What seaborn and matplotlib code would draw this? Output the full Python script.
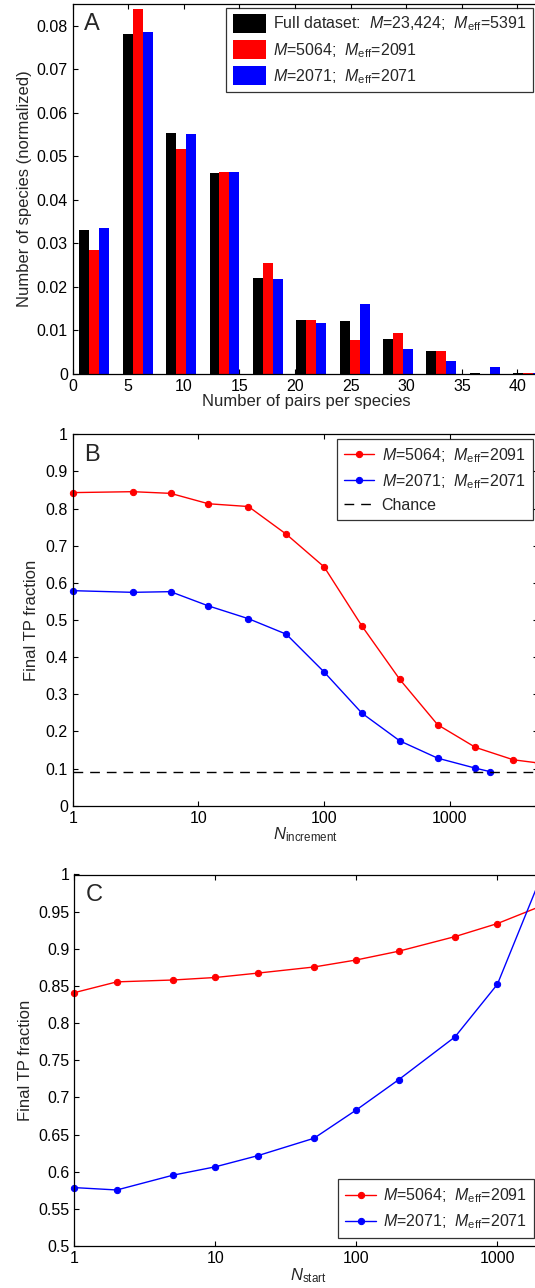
import numpy as np
import pandas as pd
import matplotlib
matplotlib.use("Agg")
import matplotlib.pyplot as plt
from matplotlib.patches import Patch
import seaborn as sns

# panel A: histogram of pairs per species (bin centres)
bin_centers = [1.95, 5.85, 9.75, 13.65, 17.55, 21.45, 25.35, 29.25, 33.15, 37.05, 40.95]
frac_full = [0.0330, 0.0782, 0.0553, 0.0462, 0.0221, 0.0125, 0.0122, 0.0081, 0.0053, 0.0003, 0.0003]
frac_5064 = [0.0284, 0.0838, 0.0518, 0.0465, 0.0254, 0.0125, 0.0077, 0.0095, 0.0053, 0.0001, 0.0002]
frac_2071 = [0.0336, 0.0786, 0.0551, 0.0465, 0.0219, 0.0117, 0.0161, 0.0058, 0.0029, 0.0015, 0.0002]
set_labels = [r"Full dataset:  $\mathit{M}$=23,424;  $\mathit{M}_{\mathrm{eff}}$=5391",
              r"$\mathit{M}$=5064;  $\mathit{M}_{\mathrm{eff}}$=2091",
              r"$\mathit{M}$=2071;  $\mathit{M}_{\mathrm{eff}}$=2071"]
set_colors = ["#000000", "#ff0000", "#0000ff"]

# panel B: final TP fraction vs N_increment
n_inc_red = [1, 3, 6, 12, 25, 50, 100, 200, 400, 800, 1600, 3200, 5064]
tp_inc_red = [0.843, 0.8455, 0.841, 0.813, 0.8055, 0.731, 0.643, 0.4836, 0.340, 0.218, 0.157, 0.1236, 0.115]
n_inc_blue = [1, 3, 6, 12, 25, 50, 100, 200, 400, 800, 1600, 2071]
tp_inc_blue = [0.579, 0.5745, 0.5763, 0.538, 0.5035, 0.4618, 0.360, 0.249, 0.1745, 0.128, 0.101, 0.092]
chance = 0.0915

# panel C: final TP fraction vs N_start
n_start = [1, 2, 5, 10, 20, 50, 100, 200, 500, 1000, 2071]
tp_start_red = [0.841, 0.8555, 0.858, 0.8614, 0.8673, 0.8755, 0.885, 0.8968, 0.9164, 0.934, 0.958]
tp_start_blue = [0.5786, 0.5754, 0.5953, 0.6066, 0.6216, 0.645, 0.6832, 0.724, 0.7814, 0.8523, 1.0]

sns.set_style("ticks")
plt.rcParams['font.family'] = ['Liberation Sans', 'DejaVu Sans']
plt.rcParams['mathtext.fontset'] = 'custom'
plt.rcParams['mathtext.rm'] = 'Liberation Sans'
plt.rcParams['mathtext.it'] = 'Liberation Sans:italic'
plt.rcParams['axes.linewidth'] = 0.9
plt.rcParams['xtick.direction'] = 'in'
plt.rcParams['ytick.direction'] = 'in'
plt.rcParams['xtick.major.size'] = 3.5
plt.rcParams['ytick.major.size'] = 3.5
plt.rcParams['xtick.top'] = True
plt.rcParams['ytick.right'] = True
plt.rcParams['font.size'] = 12

W, H = 535, 1288
fig = plt.figure(figsize=(W / 100, H / 100), dpi=100)


def px_axes(left, top, right, bottom):
    return fig.add_axes([left / W, 1 - bottom / H, (right - left) / W, (bottom - top) / H])


def style_axes(ax):
    for s in ax.spines.values():
        s.set_visible(True)
        s.set_color('black')
    ax.tick_params(which='both', labelsize=11.5, colors='black', width=0.8)
    ax.minorticks_off()


def boxed_legend(leg):
    leg.get_frame().set_edgecolor('black')
    leg.get_frame().set_linewidth(0.9)


# ---------- A ----------
axA = px_axes(72.7, 4.1, 539.7, 374)
df = pd.DataFrame({
    'center': bin_centers * 3,
    'frac': frac_full + frac_5064 + frac_2071,
    'set': ['full'] * 11 + ['5064'] * 11 + ['2071'] * 11,
})
sns.barplot(data=df, x='center', y='frac', hue='set', hue_order=['full', '5064', '2071'],
            palette=set_colors, native_scale=True, width=0.69, saturation=1,
            errorbar=None, legend=False, linewidth=0, ax=axA)
axA.set_xlim(0, 42)
axA.set_ylim(0, 0.085)
axA.set_xticks(range(0, 45, 5))
axA.set_yticks(np.arange(0, 0.081, 0.01))
axA.set_yticklabels([f"{v:g}" for v in np.round(np.arange(0, 0.081, 0.01), 2)])
axA.set_xlabel('Number of pairs per species', labelpad=0)
axA.set_ylabel('Number of species (normalized)', labelpad=3)
style_axes(axA)
axA.text(0.025, 0.975, 'A', transform=axA.transAxes, fontsize=17, va='top', ha='left')
handles = [Patch(facecolor=c, edgecolor='none') for c in set_colors]
legA = axA.legend(handles, set_labels, loc='upper right', bbox_to_anchor=(0.9857, 0.9908),
                  fontsize=11.5, handlelength=2.1, handleheight=1.45, labelspacing=0.42,
                  handletextpad=0.45, borderpad=0.4, borderaxespad=0, frameon=True, fancybox=False)
boxed_legend(legA)

# ---------- B ----------
axB = px_axes(72.7, 434.3, 538.4, 805.7)
axB.set_xscale('log')
sns.lineplot(x=n_inc_red, y=tp_inc_red, color='#ff0000', marker='o', markersize=4.5,
             markeredgecolor='#ff0000', linewidth=1.0, label=set_labels[1], ax=axB, clip_on=False)
sns.lineplot(x=n_inc_blue, y=tp_inc_blue, color='#0000ff', marker='o', markersize=4.5,
             markeredgecolor='#0000ff', linewidth=1.0, label=set_labels[2], ax=axB, clip_on=False)
axB.axhline(chance, color='black', ls='--', lw=1.0, dashes=(7, 5), label='Chance')
axB.set_xlim(1, 5064)
axB.set_ylim(0, 1)
axB.set_xticks([1, 10, 100, 1000])
axB.set_xticklabels(['1', '10', '100', '1000'])
axB.set_yticks(np.arange(0, 1.01, 0.1))
axB.set_yticklabels([f"{v:g}" for v in np.round(np.arange(0, 1.01, 0.1), 1)])
axB.set_xlabel(r'$\mathit{N}_{\mathrm{increment}}$', labelpad=0)
axB.set_ylabel('Final TP fraction', labelpad=5)
style_axes(axB)
axB.text(0.025, 0.975, 'B', transform=axB.transAxes, fontsize=17, va='top', ha='left')
legB = axB.legend(loc='upper right', bbox_to_anchor=(0.988, 0.988), fontsize=11.5,
                  handlelength=1.9, labelspacing=0.45, handletextpad=0.45, borderpad=0.45,
                  borderaxespad=0, frameon=True, fancybox=False)
boxed_legend(legB)

# ---------- C ----------
axC = px_axes(74.4, 874.5, 542, 1246)
axC.set_xscale('log')
sns.lineplot(x=n_start, y=tp_start_red, color='#ff0000', marker='o', markersize=4.5,
             markeredgecolor='#ff0000', linewidth=1.0, label=set_labels[1], ax=axC, clip_on=False)
sns.lineplot(x=n_start, y=tp_start_blue, color='#0000ff', marker='o', markersize=4.5,
             markeredgecolor='#0000ff', linewidth=1.0, label=set_labels[2], ax=axC, clip_on=False)
axC.set_xlim(1, 2071)
axC.set_ylim(0.5, 1)
axC.set_xticks([1, 10, 100, 1000])
axC.set_xticklabels(['1', '10', '100', '1000'])
axC.set_yticks(np.arange(0.5, 1.001, 0.05))
axC.set_yticklabels([f"{v:g}" for v in np.round(np.arange(0.5, 1.001, 0.05), 2)])
axC.set_xlabel(r'$\mathit{N}_{\mathrm{start}}$', labelpad=0)
axC.set_ylabel('Final TP fraction', labelpad=4)
style_axes(axC)
axC.text(0.025, 0.975, 'C', transform=axC.transAxes, fontsize=17, va='top', ha='left')
legC = axC.legend(loc='lower right', bbox_to_anchor=(0.983, 0.0205), fontsize=11.5,
                  handlelength=1.9, labelspacing=0.45, handletextpad=0.45, borderpad=0.45,
                  borderaxespad=0, frameon=True, fancybox=False)
boxed_legend(legC)

fig.savefig('out.png', dpi=100)
